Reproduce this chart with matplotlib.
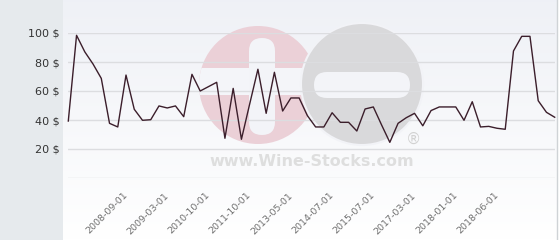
import matplotlib
matplotlib.use("Agg")
import matplotlib.pyplot as plt
import numpy as np
from matplotlib.patches import Circle, FancyBboxPatch, Rectangle

# price history, one value per sale date
prices = [39.3, 98.4, 87.0, 78.6, 68.7, 37.7, 35.2, 71.0, 47.4, 39.8,
          40.2, 49.7, 48.3, 49.7, 42.3, 71.5, 60.0, 63.0, 66.0, 27.4,
          61.8, 26.7, 51.0, 75.0, 44.6, 72.9, 46.2, 55.2, 55.2, 43.0,
          35.2, 35.2, 45.0, 38.4, 38.4, 32.4, 47.6, 49.0, 36.6, 24.6,
          37.7, 41.6, 44.6, 36.0, 46.5, 49.0, 49.0, 49.0, 39.8, 52.6,
          35.2, 35.6, 34.3, 33.6, 87.6, 97.7, 97.7, 53.3, 45.3, 41.9]
date_labels = ["2008-09-01", "2009-03-01", "2010-10-01", "2011-10-01",
               "2013-05-01", "2014-07-01", "2015-07-01", "2017-03-01",
               "2018-01-01", "2018-06-01"]
y_ticks = [0, 20, 40, 60, 80, 100]

W, H = 560, 240
fig = plt.figure(figsize=(W / 100, H / 100), dpi=100)

# background layer in pixel coords
bg = fig.add_axes([0, 0, 1, 1], zorder=0)
bg.set_xlim(0, W)
bg.set_ylim(H, 0)
bg.axis("off")
bg.add_patch(Rectangle((0, 0), 63, H, color="#e6eaed", lw=0))
grad = np.linspace(0, 1, 100).reshape(-1, 1)
top = np.array([0.937, 0.945, 0.965])
bot = np.array([1.0, 1.0, 1.0])
img = top[None, None, :] * (1 - grad[:, :, None]) + bot[None, None, :] * grad[:, :, None]
bg.imshow(img, extent=(63, 557, H, 0), aspect="auto")
bg.plot([557, 557], [0, H], color="#cfd3d6", lw=1)

# watermark
pink = Circle((258, 85), 59, color="#ebd0d7", lw=0)
bg.add_patch(pink)
band = Rectangle((190, 68), 130, 27, color="#f4f5f9", lw=0)
band.set_clip_path(pink)
bg.add_patch(band)
bg.add_patch(FancyBboxPatch((249, 38), 26, 97, boxstyle="round,pad=0,rounding_size=13",
                            color="#f3f4f8", lw=0))
bg.add_patch(Circle((362, 84), 61, facecolor="#d9d9db", edgecolor="#f2f3f7", lw=1.5))
bg.add_patch(FancyBboxPatch((314, 72), 96, 26, boxstyle="round,pad=0,rounding_size=13",
                            color="#f3f4f8", lw=0))
bg.text(312, 161, "www.Wine-Stocks.com", ha="center", va="center",
        fontsize=11.5, fontweight="bold", color="#dedede")
bg.text(413, 139, "®", ha="center", va="center", fontsize=11, color="#d2d2d2")

# chart layer
left, right = 68.3 / W, 554.7 / W
bottom, topy = (H - 178) / H, (H - 33) / H
ax = fig.add_axes([left, bottom, right - left, topy - bottom], zorder=1)
ax.patch.set_alpha(0)
x = np.arange(len(prices))
ax.plot(x, prices, color="#3b1e2b", lw=1.0, clip_on=False)
ax.set_xlim(0, len(prices) - 1)
ax.set_ylim(0, 100)
for s in ax.spines.values():
    s.set_visible(False)
ax.set_yticks(y_ticks)
ax.set_yticklabels(["" if v == 0 else f"{v} $" for v in y_ticks],
                   fontsize=8, color="#333333")
ax.grid(axis="y", color="#dcdde0", lw=1)
ax.tick_params(axis="y", length=0, pad=6.5)
ax.set_xticks(range(7, 7 + 5 * len(date_labels), 5))
ax.set_xticklabels(date_labels, rotation=45, ha="right", va="center",
                   rotation_mode="anchor", fontsize=6.8, color="#707070")
ax.tick_params(axis="x", length=0, pad=11.5)

fig.savefig("out.png", dpi=100)
